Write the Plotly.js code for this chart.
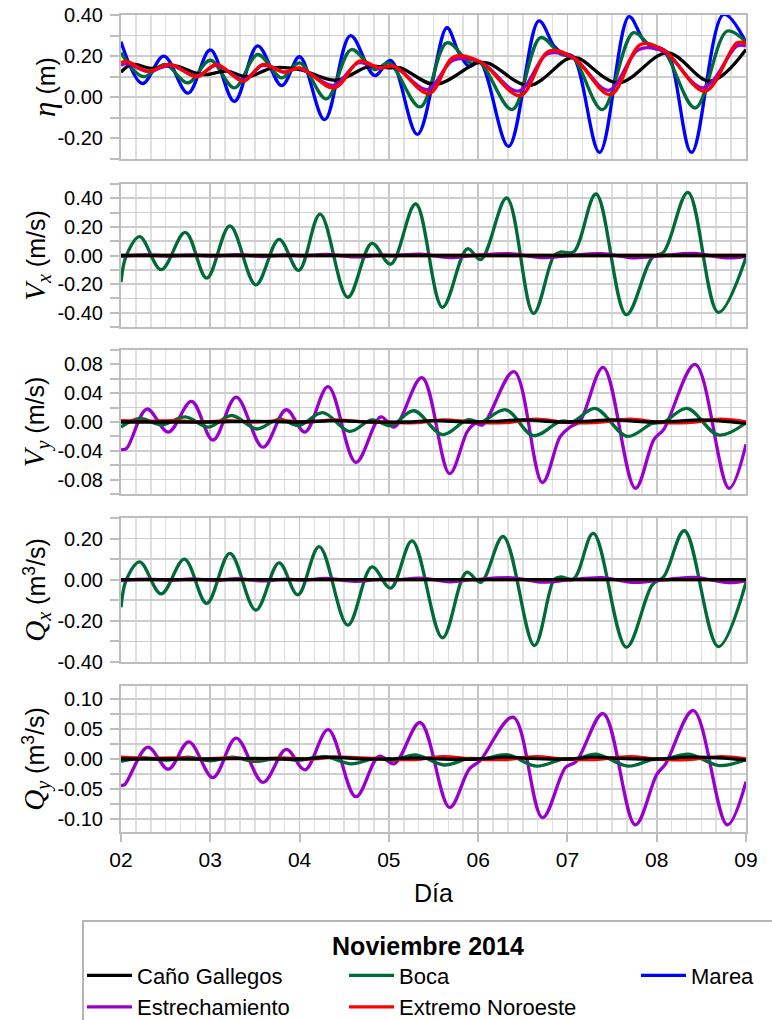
<!DOCTYPE html>
<html>
<head>
<meta charset="utf-8">
<script src="https://cdn.plot.ly/plotly-3.0.1.min.js"></script>
<style>html,body{margin:0;padding:0;background:#fff;}#chart{width:772px;height:1020px;}</style>
</head>
<body>
<div id="chart"></div>
<script>
// ---------- Tick labels ----------
var dayTicks = [2, 3, 4, 5, 6, 7, 8, 9];
var dayLabels = ['02', '03', '04', '05', '06', '07', '08', '09'];
var etaTicks = [-0.2, 0, 0.2, 0.4];
var etaLabels = ['-0.20', '0.00', '0.20', '0.40'];
var vxTicks = [-0.4, -0.2, 0, 0.2, 0.4];
var vxLabels = ['-0.40', '-0.20', '0.00', '0.20', '0.40'];
var vyTicks = [-0.08, -0.04, 0, 0.04, 0.08];
var vyLabels = ['-0.08', '-0.04', '0.00', '0.04', '0.08'];
var qxTicks = [-0.4, -0.2, 0, 0.2];
var qxLabels = ['-0.40', '-0.20', '0.00', '0.20'];
var qyTicks = [-0.1, -0.05, 0, 0.05, 0.1];
var qyLabels = ['-0.10', '-0.05', '0.00', '0.05', '0.10'];

// ---------- Series names ----------
var seriesNames = ['Caño Gallegos', 'Estrechamiento', 'Boca', 'Extremo Noroeste', 'Marea'];

// ---------- Panel 1: eta (m) ----------
var etaMareaX = [2.0, 2.24, 2.48, 2.75, 3.0, 3.27, 3.53, 3.80, 4.0, 4.28, 4.57, 4.84, 5.02, 5.32, 5.65, 5.78, 5.90, 6.02, 6.34, 6.68, 6.85, 6.94, 7.07, 7.36, 7.69, 7.86, 7.97, 8.12, 8.39, 8.75, 9.0];
var etaMareaY = [0.27, 0.067, 0.20, 0.02, 0.23, -0.02, 0.25, 0.057, 0.197, -0.109, 0.30, 0.106, 0.179, -0.18, 0.338, 0.22, 0.15, 0.172, -0.239, 0.371, 0.249, 0.216, 0.195, -0.268, 0.392, 0.273, 0.249, 0.216, -0.268, 0.403, 0.268];
var etaBocaX = [2.0, 2.25, 2.49, 2.75, 3.0, 3.27, 3.53, 3.80, 4.0, 4.30, 4.58, 4.84, 5.0, 5.35, 5.65, 5.91, 6.02, 6.38, 6.70, 6.92, 7.07, 7.39, 7.74, 7.95, 8.08, 8.43, 8.79, 9.0];
var etaBocaY = [0.216, 0.10, 0.16, 0.07, 0.18, 0.046, 0.208, 0.094, 0.167, -0.008, 0.232, 0.135, 0.167, -0.047, 0.265, 0.167, 0.17, -0.06, 0.29, 0.21, 0.19, -0.06, 0.314, 0.24, 0.224, -0.052, 0.322, 0.268];
var etaNoroesteX = [2.0, 2.06, 2.30, 2.55, 2.85, 3.07, 3.37, 3.59, 3.83, 4.0, 4.39, 4.67, 4.89, 5.06, 5.45, 5.73, 6.03, 6.47, 6.79, 7.07, 7.48, 7.82, 8.08, 8.54, 8.90, 9.0];
var etaNoroesteY = [0.167, 0.176, 0.127, 0.16, 0.10, 0.16, 0.078, 0.16, 0.122, 0.143, 0.046, 0.176, 0.143, 0.151, 0.018, 0.197, 0.171, 0.008, 0.224, 0.192, 0.013, 0.257, 0.229, 0.029, 0.265, 0.262];
var etaEstrechX = [2.0, 2.06, 2.30, 2.55, 2.85, 3.07, 3.37, 3.59, 3.83, 4.0, 4.38, 4.66, 4.89, 5.06, 5.43, 5.72, 6.03, 6.45, 6.78, 7.07, 7.46, 7.80, 8.08, 8.52, 8.90, 9.0];
var etaEstrechY = [0.155, 0.165, 0.125, 0.155, 0.105, 0.155, 0.085, 0.155, 0.122, 0.14, 0.058, 0.168, 0.143, 0.15, 0.037, 0.18, 0.17, 0.03, 0.212, 0.19, 0.034, 0.232, 0.222, 0.046, 0.249, 0.25];
var etaCanoX = [2.0, 2.12, 2.35, 2.58, 2.92, 3.18, 3.42, 3.70, 4.0, 4.41, 4.78, 5.0, 5.13, 5.52, 5.99, 6.12, 6.57, 7.0, 7.12, 7.57, 8.12, 8.60, 9.0];
var etaCanoY = [0.122, 0.16, 0.14, 0.155, 0.11, 0.127, 0.10, 0.143, 0.135, 0.083, 0.15, 0.143, 0.143, 0.062, 0.167, 0.165, 0.057, 0.187, 0.19, 0.07, 0.216, 0.078, 0.232];

// ---------- Panel 2: Vx (m/s) ----------
var vxBocaX = [2.0, 2.06, 2.21, 2.45, 2.72, 2.96, 3.22, 3.51, 3.77, 3.99, 4.23, 4.54, 4.81, 5.02, 5.30, 5.60, 5.88, 6.03, 6.32, 6.62, 6.85, 6.92, 7.07, 7.32, 7.66, 7.95, 8.08, 8.35, 8.69, 9.0];
var vxBocaY = [-0.186, 0.0, 0.132, -0.099, 0.162, -0.158, 0.207, -0.205, 0.113, -0.104, 0.289, -0.292, 0.085, -0.061, 0.36, -0.362, 0.047, -0.028, 0.402, -0.405, 0.0, 0.024, 0.026, 0.43, -0.414, -0.014, 0.026, 0.442, -0.398, -0.014];
var vxEstrechX = [2.0, 2.3, 2.55, 2.8, 3.05, 3.3, 3.6, 3.85, 4.05, 4.3, 4.62, 4.9, 5.05, 5.35, 5.68, 5.95, 6.38, 6.72, 7.0, 7.38, 7.75, 8.05, 8.42, 8.8, 9.0];
var vxEstrechY = [-0.006, 0.004, -0.004, 0.005, -0.005, 0.006, -0.007, 0.004, -0.003, 0.008, -0.01, 0.002, -0.002, 0.01, -0.014, 0.0, 0.012, -0.015, -0.002, 0.013, -0.016, -0.002, 0.014, -0.017, -0.006];
var vxNoroesteX = [2.0, 3.0, 4.0, 5.0, 6.0, 7.0, 8.0, 9.0];
var vxNoroesteY = [0.0, 0.0, 0.0, 0.0, 0.0, 0.0, 0.0, 0.0];
var vxCanoX = [2.0, 3.0, 4.0, 5.0, 6.0, 7.0, 8.0, 9.0];
var vxCanoY = [0.0, 0.0, 0.0, 0.0, 0.0, 0.0, 0.0, 0.0];

// ---------- Panel 3: Vy (m/s) ----------
var vyEstrechX = [2.0, 2.06, 2.29, 2.53, 2.79, 3.03, 3.29, 3.59, 3.85, 4.06, 4.32, 4.63, 4.91, 5.06, 5.37, 5.68, 5.88, 5.97, 6.05, 6.40, 6.72, 6.92, 7.03, 7.14, 7.40, 7.76, 7.97, 8.08, 8.43, 8.81, 9.0];
var vyEstrechY = [-0.038, -0.037, 0.018, -0.014, 0.0285, -0.025, 0.0345, -0.035, 0.017, -0.014, 0.049, -0.056, 0.007, -0.007, 0.0616, -0.0717, -0.013, -0.002, -0.004, 0.07, -0.084, -0.02, -0.007, 0.001, 0.076, -0.092, -0.024, -0.01, 0.08, -0.092, -0.031];
var vyBocaX = [2.0, 2.21, 2.45, 2.72, 2.98, 3.24, 3.52, 3.77, 3.99, 4.26, 4.56, 4.81, 5.02, 5.28, 5.60, 5.88, 6.03, 6.31, 6.62, 6.92, 7.07, 7.31, 7.67, 7.95, 8.08, 8.34, 8.69, 9.0];
var vyBocaY = [-0.007, 0.005, -0.004, 0.007, -0.007, 0.009, -0.0097, 0.004, -0.005, 0.013, -0.013, 0.003, -0.005, 0.0156, -0.0175, 0.003, 0.0, 0.017, -0.019, 0.001, 0.001, 0.019, -0.02, -0.002, 0.0, 0.019, -0.018, -0.001];
var vyNoroesteX = [2.0, 2.3, 2.6, 2.9, 3.2, 3.5, 3.8, 4.1, 4.4, 4.65, 4.95, 5.3, 5.6, 5.95, 6.3, 6.65, 6.95, 7.3, 7.7, 8.0, 8.35, 8.72, 9.0];
var vyNoroesteY = [0.002, 0.001, 0.002, 0.0, 0.002, 0.0, 0.002, 0.0, 0.003, 0.001, 0.0, -0.001, 0.003, 0.0, -0.001, 0.004, 0.0, -0.001, 0.004, 0.0, -0.001, 0.004, 0.0];
var vyCanoX = [2.0, 2.5, 3.0, 3.5, 4.0, 4.4, 4.8, 5.2, 5.5, 5.9, 6.2, 6.5, 6.9, 7.2, 7.5, 7.9, 8.2, 8.5, 9.0];
var vyCanoY = [0.0, 0.0, 0.0, 0.001, 0.0, 0.002, 0.0, 0.0, 0.002, 0.0, 0.001, 0.003, 0.0, 0.001, 0.003, 0.0, 0.001, 0.003, -0.002];

// ---------- Panel 4: Qx (m3/s) ----------
var qxBocaX = [2.0, 2.06, 2.21, 2.45, 2.71, 2.96, 3.22, 3.51, 3.77, 3.98, 4.22, 4.54, 4.81, 5.02, 5.26, 5.60, 5.87, 6.03, 6.28, 6.63, 6.85, 6.92, 7.07, 7.29, 7.66, 7.95, 8.08, 8.31, 8.69, 9.0];
var qxBocaY = [-0.134, 0.0, 0.087, -0.069, 0.10, -0.115, 0.128, -0.148, 0.082, -0.074, 0.161, -0.221, 0.062, -0.041, 0.189, -0.282, 0.036, -0.013, 0.21, -0.32, 0.0, 0.013, 0.005, 0.225, -0.328, -0.025, 0.016, 0.238, -0.325, -0.013];
var qxEstrechX = [2.0, 2.3, 2.55, 2.8, 3.05, 3.3, 3.6, 3.85, 4.05, 4.3, 4.62, 4.9, 5.05, 5.35, 5.68, 5.95, 6.38, 6.72, 7.0, 7.38, 7.75, 8.05, 8.42, 8.8, 9.0];
var qxEstrechY = [-0.004, 0.003, -0.003, 0.004, -0.004, 0.005, -0.006, 0.003, -0.002, 0.006, -0.008, 0.002, -0.002, 0.008, -0.01, 0.0, 0.009, -0.012, -0.002, 0.01, -0.013, -0.002, 0.011, -0.014, -0.005];
var qxNoroesteX = [2.0, 3.0, 4.0, 5.0, 6.0, 7.0, 8.0, 9.0];
var qxNoroesteY = [0.0, 0.0, 0.0, 0.0, 0.0, 0.0, 0.0, 0.0];
var qxCanoX = [2.0, 3.0, 4.0, 5.0, 6.0, 7.0, 8.0, 9.0];
var qxCanoY = [0.0, 0.0, 0.0, 0.0, 0.0, 0.0, 0.0, 0.0];

// ---------- Panel 5: Qy (m3/s) ----------
var qyEstrechX = [2.0, 2.04, 2.30, 2.53, 2.76, 3.03, 3.29, 3.59, 3.85, 4.06, 4.32, 4.63, 4.89, 5.06, 5.35, 5.68, 5.90, 6.02, 6.39, 6.72, 6.98, 7.10, 7.40, 7.76, 8.0, 8.10, 8.41, 8.79, 9.0];
var qyEstrechY = [-0.044, -0.043, 0.0197, -0.017, 0.0287, -0.031, 0.035, -0.039, 0.016, -0.018, 0.049, -0.063, 0.0045, -0.008, 0.061, -0.081, -0.017, -0.003, 0.070, -0.098, -0.014, -0.004, 0.076, -0.11, -0.026, -0.008, 0.081, -0.11, -0.038];
var qyBocaX = [2.0, 2.25, 2.5, 2.75, 3.0, 3.25, 3.5, 3.75, 4.0, 4.28, 4.58, 4.85, 5.05, 5.30, 5.62, 5.9, 6.05, 6.33, 6.65, 6.95, 7.1, 7.32, 7.68, 7.95, 8.1, 8.36, 8.7, 9.0];
var qyBocaY = [-0.004, 0.002, -0.002, 0.003, -0.003, 0.003, -0.004, 0.001, -0.002, 0.004, -0.008, 0.001, -0.002, 0.007, -0.01, 0.001, 0.0, 0.007, -0.012, 0.0, 0.0, 0.008, -0.012, -0.001, 0.0, 0.008, -0.011, -0.001];
var qyNoroesteX = [2.0, 2.3, 2.6, 2.9, 3.2, 3.5, 3.8, 4.1, 4.4, 4.7, 5.0, 5.3, 5.6, 5.95, 6.3, 6.65, 6.95, 7.3, 7.7, 8.0, 8.35, 8.72, 9.0];
var qyNoroesteY = [0.003, 0.001, 0.002, 0.0, 0.002, 0.0, 0.002, 0.0, 0.003, 0.002, 0.0, -0.001, 0.004, 0.0, -0.001, 0.004, 0.0, -0.001, 0.004, 0.0, -0.001, 0.004, 0.0];
var qyCanoX = [2.0, 2.5, 3.0, 3.5, 4.0, 4.35, 4.7, 5.0, 5.3, 5.6, 6.0, 6.3, 6.6, 7.0, 7.3, 7.6, 8.0, 8.35, 8.7, 9.0];
var qyCanoY = [0.0, 0.0, 0.0, 0.001, 0.0, 0.003, 0.0, 0.0, 0.002, 0.0, 0.0, 0.003, 0.001, 0.0, 0.003, 0.001, 0.0, 0.003, 0.002, -0.002];

// ---------- Styling ----------
var colors = {
  'Caño Gallegos': '#000000',
  'Estrechamiento': '#9900cc',
  'Boca': '#006a38',
  'Extremo Noroeste': '#ff0000',
  'Marea': '#0000ff'
};
var ranks = {'Caño Gallegos': 1, 'Estrechamiento': 2, 'Boca': 3, 'Extremo Noroeste': 4, 'Marea': 5};
var groups = {'Caño Gallegos': 'g1', 'Estrechamiento': 'g1', 'Boca': 'g2', 'Extremo Noroeste': 'g2', 'Marea': 'g3'};
var legWidths = {'Caño Gallegos': 202, 'Estrechamiento': 202, 'Boca': 232, 'Extremo Noroeste': 232, 'Marea': 76};

function tr(name, x, y, panel, showLegend) {
  var ax = panel === 1 ? '' : String(panel);
  return {
    type: 'scatter', mode: 'lines', name: name, x: x, y: y,
    xaxis: 'x' + ax, yaxis: 'y' + ax,
    line: {color: colors[name], width: 3.3, shape: 'spline', smoothing: 1},
    showlegend: !!showLegend, legendgroup: groups[name], legendrank: ranks[name],
    legendwidth: legWidths[name], hoverinfo: 'skip'
  };
}

var data = [
  tr('Marea', etaMareaX, etaMareaY, 1, true),
  tr('Boca', etaBocaX, etaBocaY, 1, true),
  tr('Caño Gallegos', etaCanoX, etaCanoY, 1, true),
  tr('Estrechamiento', etaEstrechX, etaEstrechY, 1, true),
  tr('Extremo Noroeste', etaNoroesteX, etaNoroesteY, 1, true),

  tr('Boca', vxBocaX, vxBocaY, 2),
  tr('Estrechamiento', vxEstrechX, vxEstrechY, 2),
  tr('Extremo Noroeste', vxNoroesteX, vxNoroesteY, 2),
  tr('Caño Gallegos', vxCanoX, vxCanoY, 2),

  tr('Estrechamiento', vyEstrechX, vyEstrechY, 3),
  tr('Boca', vyBocaX, vyBocaY, 3),
  tr('Extremo Noroeste', vyNoroesteX, vyNoroesteY, 3),
  tr('Caño Gallegos', vyCanoX, vyCanoY, 3),

  tr('Boca', qxBocaX, qxBocaY, 4),
  tr('Estrechamiento', qxEstrechX, qxEstrechY, 4),
  tr('Extremo Noroeste', qxNoroesteX, qxNoroesteY, 4),
  tr('Caño Gallegos', qxCanoX, qxCanoY, 4),

  tr('Estrechamiento', qyEstrechX, qyEstrechY, 5),
  tr('Boca', qyBocaX, qyBocaY, 5),
  tr('Extremo Noroeste', qyNoroesteX, qyNoroesteY, 5),
  tr('Caño Gallegos', qyCanoX, qyCanoY, 5)
];

var FONT = 'Liberation Sans, Arial, sans-serif';
var W = 772, H = 1020, L = 121, R = 26, T = 15, B = 188;
var plotH = H - T - B;
// panel pixel extents (top, bottom) in page coordinates
var panelPx = [[15, 159], [184, 327], [350, 494], [518, 662], [686, 832]];
function dom(p) { return [(H - B - p[1]) / plotH, (H - B - p[0]) / plotH]; }

function xAxis(panel, bottom) {
  var a = {
    domain: [0, 1], anchor: 'y' + (panel === 1 ? '' : panel), range: [2, 9],
    tickmode: 'array', tickvals: dayTicks, ticktext: dayLabels,
    showticklabels: bottom, ticks: bottom ? 'outside' : '', ticklen: 8, tickwidth: 2, tickcolor: '#bdbdbd',
    tickfont: {family: FONT, size: 21, color: '#000'},
    showgrid: true, gridcolor: '#c6c6c6', gridwidth: 1.6,
    minor: {tickmode: 'linear', tick0: 2, dtick: 1 / 6, showgrid: true, gridcolor: '#e0e0e0', gridwidth: 1.6, ticks: ''},
    showline: true, linecolor: '#bdbdbd', linewidth: 2, mirror: true, zeroline: false,
    fixedrange: true
  };
  if (bottom) a.title = {text: 'Día', font: {family: FONT, size: 25, color: '#000'}, standoff: 14};
  return a;
}
function yAxis(panel, range, tv, tt, minorDt, titleText) {
  return {
    domain: dom(panelPx[panel - 1]), anchor: 'x' + (panel === 1 ? '' : panel), range: range,
    tickmode: 'array', tickvals: tv, ticktext: tt,
    ticks: 'outside', ticklen: 9, tickwidth: 2, tickcolor: '#bdbdbd', ticklabelstandoff: 3,
    tickfont: {family: FONT, size: 20, color: '#000'},
    showgrid: true, gridcolor: '#cecece', gridwidth: 1.7,
    minor: {tickmode: 'linear', tick0: 0, dtick: minorDt, showgrid: true, gridcolor: '#cecece', gridwidth: 1.7, ticks: 'outside', ticklen: 9, tickwidth: 2, tickcolor: '#bdbdbd'},
    showline: true, linecolor: '#bdbdbd', linewidth: 2, mirror: true, zeroline: false,
    title: {text: titleText, font: {family: FONT, size: 25, color: '#000'}},
    fixedrange: true
  };
}

var layout = {
  width: W, height: H,
  margin: {l: L, r: R, t: T, b: B, autoexpand: false},
  paper_bgcolor: '#fff', plot_bgcolor: '#fff',
  font: {family: FONT, color: '#000'},
  showlegend: true,
  xaxis: xAxis(1, false), xaxis2: xAxis(2, false), xaxis3: xAxis(3, false), xaxis4: xAxis(4, false), xaxis5: xAxis(5, true),
  yaxis: yAxis(1, [-0.3, 0.4], etaTicks, etaLabels, 0.1, '<span style="font-family:Liberation Serif;font-size:31px"><i>η</i></span> (m)'),
  yaxis2: yAxis(2, [-0.5, 0.5], vxTicks, vxLabels, 0.1, '<span style="font-family:Liberation Serif;font-size:29px"><i>V</i><sub><i>x</i></sub></span> (m/s)'),
  yaxis3: yAxis(3, [-0.1, 0.1], vyTicks, vyLabels, 0.02, '<span style="font-family:Liberation Serif;font-size:29px"><i>V</i><sub><i>y</i></sub></span> (m/s)'),
  yaxis4: yAxis(4, [-0.4, 0.3], qxTicks, qxLabels, 0.1, '<span style="font-family:Liberation Serif;font-size:29px"><i>Q</i><sub><i>x</i></sub></span> (m<sup>3</sup>/s)'),
  yaxis5: yAxis(5, [-0.122, 0.122], qyTicks, qyLabels, 0.025, '<span style="font-family:Liberation Serif;font-size:29px"><i>Q</i><sub><i>y</i></sub></span> (m<sup>3</sup>/s)'),
  legend: {
    orientation: 'h', traceorder: 'grouped',
    x: (82 - L) / (W - L - R), xanchor: 'left',
    y: (H - B - 920) / plotH, yanchor: 'top',
    bgcolor: '#fff', bordercolor: '#b4b4b4', borderwidth: 2,
    font: {family: FONT, size: 22, color: '#000'},
    title: {text: '<b>Noviembre 2014</b>', side: 'top center', font: {family: FONT, size: 25, color: '#000'}},
    itemwidth: 45, tracegroupgap: 0, itemclick: false, itemdoubleclick: false
  }
};

Plotly.newPlot('chart', data, layout, {displayModeBar: false, staticPlot: true});
</script>
</body>
</html>
